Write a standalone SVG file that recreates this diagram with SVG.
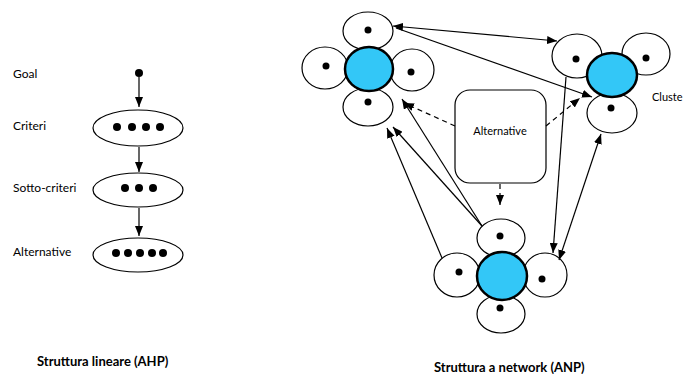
<svg xmlns="http://www.w3.org/2000/svg" width="684" height="374" viewBox="0 0 684 374">
<style>
.t{font-family:Lato,"Liberation Sans",sans-serif;font-size:12px;fill:#000}
.s{font-family:Lato,"Liberation Sans",sans-serif;font-size:11px;fill:#000}
.b{font-family:Lato,"Liberation Sans",sans-serif;font-size:13px;font-weight:bold;fill:#000}
.p{fill:#fff;stroke:#000;stroke-width:1.2}
.c{fill:#33c7f7;stroke:#000;stroke-width:2.5}
.d{fill:#000}
.l{fill:none;stroke:#000;stroke-width:1.2}
.ds{fill:none;stroke:#000;stroke-width:1.2;stroke-dasharray:5,4}
</style>
<defs>
<marker id="ar" viewBox="0 0 10 8" refX="10" refY="4" markerWidth="10" markerHeight="8" markerUnits="userSpaceOnUse" orient="auto-start-reverse">
<path d="M0,0 L10,4 L0,8 z" fill="#000"/>
</marker>
</defs>
<rect width="684" height="374" fill="#fff"/>

<g id="ahp-labels">
<text class="t" x="13" y="78">Goal</text>
<text class="t" x="13" y="130">Criteri</text>
<text class="t" x="13" y="192">Sotto-criteri</text>
<text class="t" x="13" y="256">Alternative</text>
</g>
<g id="goal"><circle class="d" cx="139" cy="73" r="4"/></g>
<g id="criteri">
<ellipse class="p" cx="138" cy="128" rx="45" ry="18"/>
<circle class="d" cx="117" cy="127" r="4"/><circle class="d" cx="132" cy="127" r="4"/><circle class="d" cx="146" cy="127" r="4"/><circle class="d" cx="160" cy="127" r="4"/>
</g>
<g id="sottocriteri">
<ellipse class="p" cx="138" cy="190" rx="45" ry="17"/>
<circle class="d" cx="125" cy="188" r="4"/><circle class="d" cx="139" cy="188" r="4"/><circle class="d" cx="153" cy="188" r="4"/>
</g>
<g id="alternative-ahp">
<ellipse class="p" cx="138" cy="255" rx="45" ry="17"/>
<circle class="d" cx="116" cy="253" r="4"/><circle class="d" cx="128" cy="253" r="4"/><circle class="d" cx="140" cy="253" r="4"/><circle class="d" cx="152" cy="253" r="4"/><circle class="d" cx="163" cy="253" r="4"/>
</g>

<g id="cluster-left">
<ellipse class="p" cx="368" cy="31" rx="25" ry="19"/>
<ellipse class="p" cx="325" cy="68" rx="23" ry="21"/>
<ellipse class="p" cx="412" cy="70" rx="22" ry="21"/>
<ellipse class="p" cx="368" cy="107" rx="25" ry="19"/>
<ellipse class="c" cx="369" cy="69" rx="24" ry="22"/>
<circle class="d" cx="368" cy="30" r="3.5"/><circle class="d" cx="326" cy="66" r="3.5"/><circle class="d" cx="411" cy="72" r="3.5"/><circle class="d" cx="368" cy="102" r="3.5"/>
</g>
<g id="cluster-right">
<ellipse class="p" cx="577" cy="56" rx="25" ry="22"/>
<ellipse class="p" cx="646" cy="54" rx="24" ry="21"/>
<ellipse class="p" cx="612" cy="113" rx="25" ry="20"/>
<ellipse class="c" cx="612" cy="75" rx="25" ry="22"/>
<circle class="d" cx="576" cy="59" r="3.5"/><circle class="d" cx="646" cy="58" r="3.5"/><circle class="d" cx="611" cy="108" r="3.5"/>
<text class="s" x="652" y="101">Cluste</text>
</g>
<g id="cluster-bottom">
<ellipse class="p" cx="501" cy="238" rx="24" ry="19"/>
<ellipse class="p" cx="457" cy="275" rx="23" ry="22"/>
<ellipse class="p" cx="545" cy="275" rx="22" ry="22"/>
<ellipse class="p" cx="501" cy="314" rx="24" ry="19"/>
<ellipse class="c" cx="502" cy="276" rx="25" ry="24"/>
<circle class="d" cx="500" cy="236" r="3.5"/><circle class="d" cx="459" cy="272" r="3.5"/><circle class="d" cx="542" cy="279" r="3.5"/><circle class="d" cx="500" cy="308" r="3.5"/>
</g>
<g id="alternative-anp">
<rect class="p" x="455" y="90" width="91" height="93" rx="15"/>
<text class="s" x="500" y="135" text-anchor="middle">Alternative</text>
</g>

<g id="connectors">
<line class="l" x1="139" y1="77" x2="139" y2="107" marker-end="url(#ar)"/>
<line class="l" x1="139" y1="147" x2="139" y2="172" marker-end="url(#ar)"/>
<line class="l" x1="139" y1="208" x2="139" y2="236" marker-end="url(#ar)"/>

<line class="l" x1="393" y1="26" x2="557" y2="41" marker-start="url(#ar)" marker-end="url(#ar)"/>
<line class="l" x1="396" y1="28" x2="592" y2="97" marker-end="url(#ar)"/>
<line class="l" x1="566" y1="77" x2="553" y2="253" marker-end="url(#ar)"/>
<line class="l" x1="601" y1="134" x2="559" y2="260" marker-start="url(#ar)" marker-end="url(#ar)"/>
<line class="l" x1="442" y1="258" x2="387" y2="128" marker-end="url(#ar)"/>
<line class="l" x1="482" y1="226" x2="393" y2="127" marker-end="url(#ar)"/>
<line class="l" x1="482" y1="226" x2="402" y2="99" marker-end="url(#ar)"/>

<line class="ds" x1="455" y1="126" x2="404" y2="103" marker-end="url(#ar)"/>
<line class="ds" x1="546" y1="126" x2="580" y2="98" marker-end="url(#ar)"/>
<line class="ds" x1="500" y1="184" x2="500" y2="205" marker-end="url(#ar)"/>
</g>

<g id="captions">
<text class="b" x="37" y="366">Struttura lineare (AHP)</text>
<text class="b" x="434" y="372">Struttura a network (ANP)</text>
</g>
</svg>
